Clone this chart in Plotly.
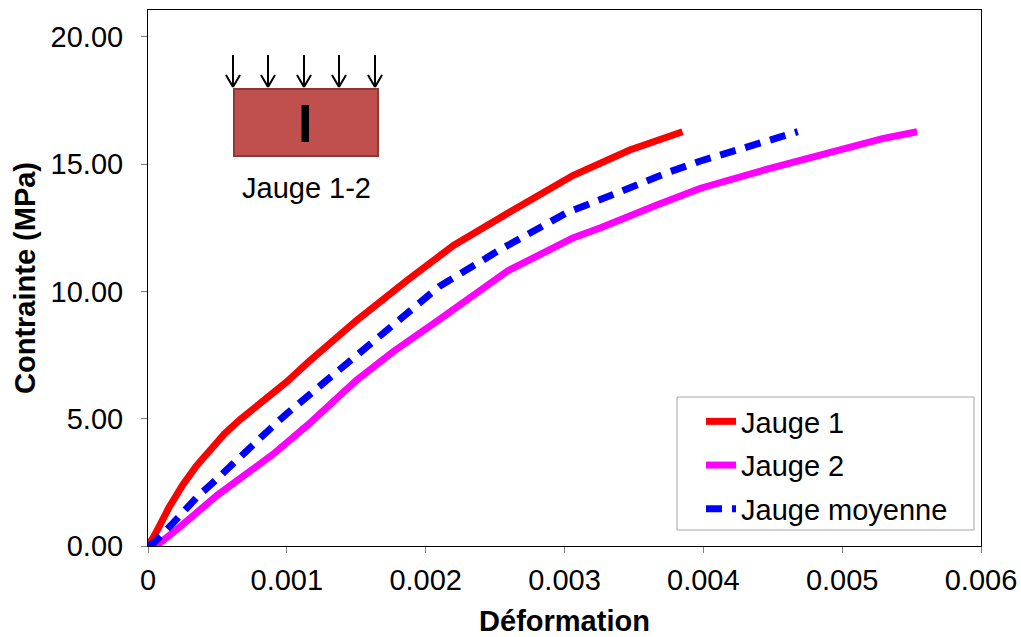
import plotly.graph_objects as go

# ---- data ----
j1_strain = [0, 0.00005, 0.00015, 0.00025, 0.00035, 0.00045, 0.00055, 0.00066, 0.00080,
             0.00100, 0.00115, 0.00150, 0.00187, 0.00220, 0.00260, 0.00306, 0.00347,
             0.00385]
j1_stress = [0, 0.45, 1.5, 2.4, 3.15, 3.8, 4.4, 4.95, 5.55,
             6.45, 7.2, 8.85, 10.45, 11.8, 13.1, 14.55, 15.55,
             16.27]

j2_strain = [0, 0.00007, 0.00023, 0.00050, 0.00090, 0.00115, 0.00150, 0.00177, 0.00210,
             0.00230, 0.00259, 0.00306, 0.00326, 0.00367, 0.00398, 0.00446, 0.00493,
             0.00529, 0.00554]
j2_stress = [0, 0.05, 0.75, 2.0, 3.6, 4.75, 6.5, 7.65, 8.9,
             9.65, 10.8, 12.1, 12.5, 13.4, 14.05, 14.8, 15.5,
             16.0, 16.27]

jm_strain = [0, 0.00004, 0.00018, 0.00035, 0.00050, 0.00066, 0.00083, 0.00100, 0.00124,
             0.00158, 0.00172, 0.00210, 0.00254, 0.00302, 0.00335, 0.00354, 0.00376,
             0.00398, 0.00421, 0.00446, 0.00468]
jm_stress = [0, 0.12, 0.9, 1.9, 2.65, 3.5, 4.35, 5.2, 6.3,
             7.9, 8.5, 10.2, 11.65, 13.1, 13.8, 14.25, 14.7,
             15.12, 15.5, 15.9, 16.27]

series_names = ["Jauge 1", "Jauge 2", "Jauge moyenne"]
x_ticks = [0, 0.001, 0.002, 0.003, 0.004, 0.005, 0.006]
x_ticktext = ["0", "0.001", "0.002", "0.003", "0.004", "0.005", "0.006"]
y_ticks = [0, 5, 10, 15, 20]
inset_label = "Jauge 1-2"

# ---- layout geometry (pixels) ----
W, H = 1021, 637
L, R, T, B = 148, 40, 10, 91
X0, X1, Y0, Y1 = L, W - R, T, H - B


def px(x):
    return (x - X0) / (X1 - X0)


def py(y):
    return (Y1 - y) / (Y1 - Y0)


FONT = "Liberation Sans, Arial, sans-serif"
FS = 29

fig = go.Figure()
fig.add_trace(go.Scatter(x=j1_strain, y=j1_stress, mode="lines", name=series_names[0],
                         legendgroup="a", line=dict(color="#FF0000", width=7)))
fig.add_trace(go.Scatter(x=j2_strain, y=j2_stress, mode="lines", name=series_names[1],
                         legendgroup="b", line=dict(color="#FF00FF", width=7)))
fig.add_trace(go.Scatter(x=jm_strain, y=jm_stress, mode="lines", name=series_names[2],
                         legendgroup="c", line=dict(color="#0000FF", width=7, dash="16px,10px")))

shapes = []
# legend frame
shapes.append(dict(type="rect", xref="paper", yref="paper",
                   x0=px(677), x1=px(974), y0=py(530), y1=py(397),
                   line=dict(color="#A6A6A6", width=1), fillcolor="rgba(0,0,0,0)"))
# inset block
shapes.append(dict(type="rect", xref="paper", yref="paper",
                   x0=px(234), x1=px(378), y0=py(156), y1=py(89),
                   line=dict(color="#8C3836", width=2), fillcolor="#C0504D"))
# gauge bar
shapes.append(dict(type="rect", xref="paper", yref="paper",
                   x0=px(301.5), x1=px(309), y0=py(142), y1=py(105),
                   line=dict(width=0), fillcolor="#000000"))
# load arrows
for ax_ in [233, 268, 304, 339, 375]:
    shapes.append(dict(type="line", xref="paper", yref="paper",
                       x0=px(ax_), x1=px(ax_), y0=py(55), y1=py(87),
                       line=dict(color="black", width=2)))
    for s in (-1, 1):
        shapes.append(dict(type="line", xref="paper", yref="paper",
                           x0=px(ax_ + s * 7), x1=px(ax_), y0=py(75), y1=py(87),
                           line=dict(color="black", width=2)))

fig.update_layout(
    width=W, height=H,
    margin=dict(l=L, r=R, t=T, b=B, autoexpand=False),
    paper_bgcolor="white", plot_bgcolor="white",
    font=dict(family=FONT, size=FS, color="black"),
    shapes=shapes,
    annotations=[dict(text=inset_label, xref="paper", yref="paper",
                      x=px(306), y=py(188), xanchor="center", yanchor="middle",
                      showarrow=False,
                      font=dict(family=FONT, size=FS, color="black"))],
    legend=dict(x=px(701), y=py(396), xanchor="left", yanchor="top",
                bgcolor="rgba(0,0,0,0)", borderwidth=0,
                font=dict(family=FONT, size=FS, color="black"),
                tracegroupgap=3, itemwidth=30),
    showlegend=True,
)

fig.update_xaxes(range=[0, 0.006], tickvals=x_ticks, ticktext=x_ticktext,
                 showgrid=False, zeroline=False,
                 showline=True, linecolor="black", linewidth=1, mirror=True,
                 ticks="outside", ticklen=6, tickcolor="#808080",
                 ticklabelstandoff=2,
                 tickfont=dict(family=FONT, size=FS),
                 title=dict(text="<b>Déformation</b>", font=dict(family=FONT, size=FS), standoff=18))
fig.update_yaxes(range=[0, 21.05], tickvals=y_ticks, tickformat=".2f",
                 showgrid=False, zeroline=False,
                 showline=True, linecolor="black", linewidth=1, mirror=True,
                 ticks="outside", ticklen=6, tickcolor="#808080",
                 ticklabelstandoff=12,
                 tickfont=dict(family=FONT, size=FS),
                 title=dict(text="<b>Contrainte (MPa)</b>", font=dict(family=FONT, size=FS), standoff=6))

fig.write_html("out.html", config={"displayModeBar": False},
               post_script="document.body.style.margin='0';document.body.style.overflow='hidden';")
